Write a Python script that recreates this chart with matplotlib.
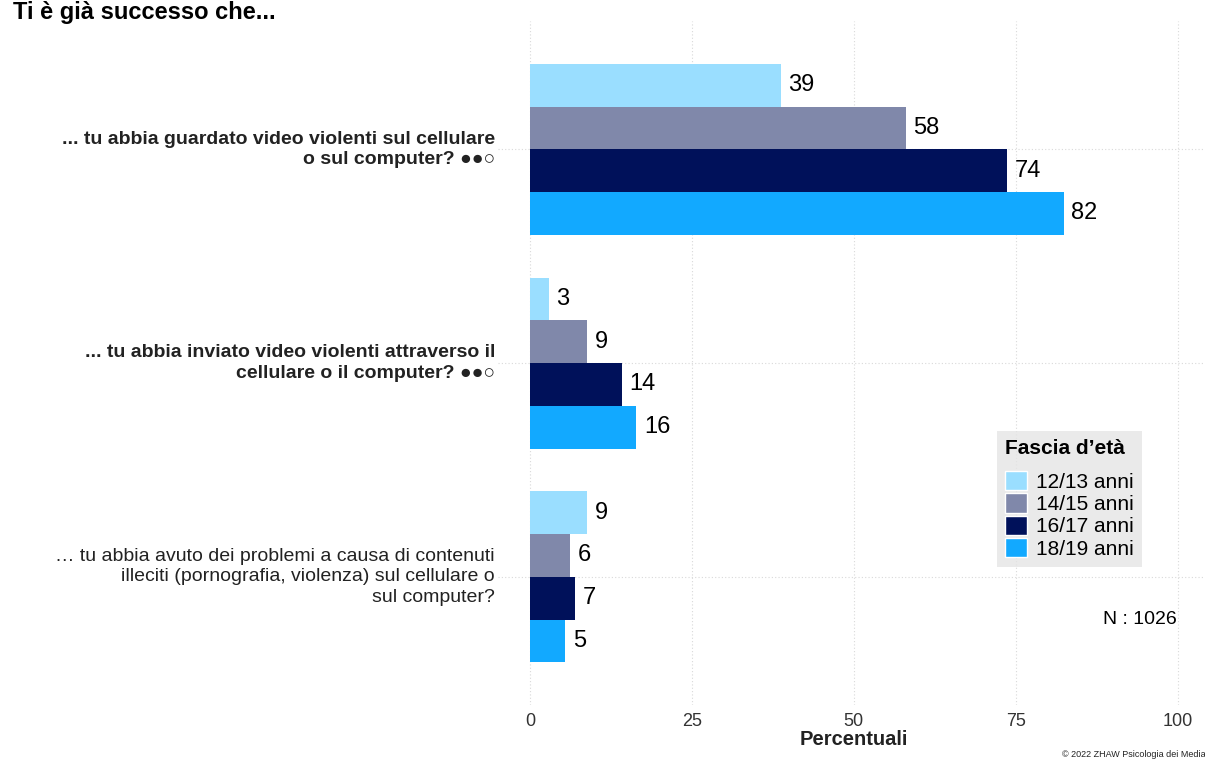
import matplotlib.pyplot as plt
from matplotlib.patches import Patch

plt.rcParams['font.family'] = ['Liberation Sans', 'DejaVu Sans']

categories = [
    "... tu abbia guardato video violenti sul cellulare\no sul computer? \u25cf\u25cf\u25cb",
    "... tu abbia inviato video violenti attraverso il\ncellulare o il computer? \u25cf\u25cf\u25cb",
    "\u2026 tu abbia avuto dei problemi a causa di contenuti\nilleciti (pornografia, violenza) sul cellulare o\nsul computer?",
]
bold_cat = [True, True, False]
groups = ["12/13 anni", "14/15 anni", "16/17 anni", "18/19 anni"]
colors = ["#9ADEFF", "#8088AA", "#00115A", "#12A9FF"]
# percent per group (rows = categories, cols = age groups)
val_1213 = [38.7, 2.9, 8.8]
val_1415 = [58.0, 8.8, 6.2]
val_1617 = [73.6, 14.2, 6.9]
val_1819 = [82.4, 16.4, 5.4]
values = [val_1213, val_1415, val_1617, val_1819]
xticks = [0, 25, 50, 75, 100]

W, H = 1205, 761
fig = plt.figure(figsize=(W / 100, H / 100), dpi=100)
ax = fig.add_axes([497.6 / W, 1 - 705 / H, (1210 - 497.6) / W, (705 - 21) / H])

bh = 0.2
for g in range(4):
    for c in range(3):
        y = c + (g - 1.5) * bh
        v = values[g][c]
        ax.barh(y, v, height=bh, color=colors[g], zorder=2)
        ax.text(v + 1.2, y, f"{v:.0f}", va="center", ha="left", fontsize=17, color="black", zorder=3)

ax.set_xlim(-5, 105)
ax.set_ylim(2.6, -0.6)
ax.set_xticks(xticks)
ax.set_xticklabels([str(t) for t in xticks], fontsize=13, color="#333333")
ax.set_yticks(range(3))
ax.set_yticklabels([])
for c, lab in enumerate(categories):
    ax.text(-5.4, c, lab, ha="right", va="center", fontsize=14,
            fontweight="bold" if bold_cat[c] else "normal", color="#222222",
            linespacing=1.25, transform=ax.transData)
ax.tick_params(length=0, pad=6)
ax.grid(True, color="#d9d9d9", linestyle=(0, (1, 2)), linewidth=0.8, zorder=0)
ax.set_axisbelow(True)
for s in ax.spines.values():
    s.set_visible(False)
ax.set_xlabel("Percentuali", fontsize=14.5, fontweight="bold", color="#222222", labelpad=0)

handles = [Patch(facecolor=colors[i], edgecolor="white", linewidth=1) for i in range(4)]
leg = fig.legend(handles, groups, title="Fascia d\u2019et\u00e0", loc="upper left",
                 bbox_to_anchor=(997 / W, 1 - 431 / H), fontsize=15,
                 title_fontproperties={"weight": "bold", "size": 15},
                 frameon=True, fancybox=False, borderaxespad=0, alignment="left",
                 handlelength=1.05, handleheight=1.05, labelspacing=0.08,
                 borderpad=0.4, handletextpad=0.4)
leg._legend_box.sep = 9
leg.get_frame().set_facecolor("#e5e5e5")
leg.get_frame().set_edgecolor("none")

fig.text(1177 / W, 1 - 620 / H, "N : 1026", ha="right", va="center", fontsize=14)
fig.text(13 / W, 1 - 1 / H, "Ti \u00e8 gi\u00e0 successo che...", ha="left", va="top",
         fontsize=17, fontweight="bold")
fig.text(1062 / W, 1 - 757 / H, "\u00a9 2022 ZHAW Psicologia dei Media", ha="left", va="baseline",
         fontsize=6.5, color="#222222")

fig.savefig("out.png", dpi=100)
